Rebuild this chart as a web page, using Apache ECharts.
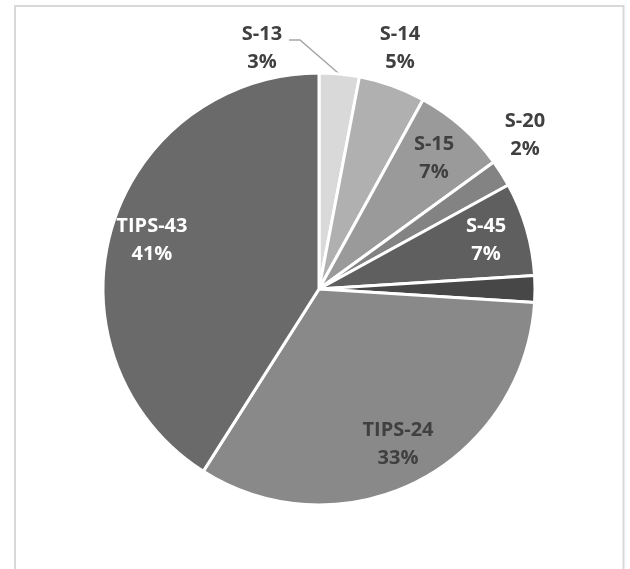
<!DOCTYPE html>
<html>
<head>
<meta charset="utf-8">
<script src="https://cdn.jsdelivr.net/npm/echarts@6/dist/echarts.min.js"></script>
<style>
  html, body { margin: 0; padding: 0; background: #ffffff; }
  #chart { width: 630px; height: 569px; }
</style>
</head>
<body>
<div id="chart"></div>
<script>
// Share of each group, clockwise from twelve o'clock
const categories = ['S-13', 'S-14', 'S-15', 'S-20', 'S-45', '', 'TIPS-24', 'TIPS-43'];
const shares = [3, 5, 7, 2, 7, 2, 33, 41];

// Grey palette for the slices and the ink used for each label
const sliceColors = ['#d9d9d9', '#b0b0b0', '#9a9a9a', '#838383', '#5f5f5f', '#474747', '#898989', '#6a6a6a'];
const labelInk = ['#404040', '#404040', '#404040', '#404040', '#ffffff', '#404040', '#404040', '#ffffff'];
// Labels drawn outside the pie (the rest sit inside their slice)
const outsideLabels = ['S-13', 'S-14', 'S-20'];

const chart = echarts.init(document.getElementById('chart'), null, { renderer: 'canvas' });

const CX = 319, CY = 289, R = 216;
const font = { fontFamily: '"Open Sans", "Noto Sans", sans-serif', fontWeight: 'bold', fontSize: 20, lineHeight: 28 };

const sliceData = categories.map((name, i) => ({
  name: name,
  value: shares[i],
  itemStyle: { color: sliceColors[i] }
}));

// Transparent ring whose mid radius carries the in-slice labels
const labelData = categories.map((name, i) => {
  const outside = outsideLabels.indexOf(name) >= 0;
  return {
    name: name,
    value: shares[i],
    itemStyle: { color: 'rgba(0,0,0,0)', borderWidth: 0 },
    label: {
      show: name !== '',
      position: outside ? 'outside' : 'inside',
      color: labelInk[i]
    },
    labelLine: {
      show: name === 'S-13',
      lineStyle: { color: '#a6a6a6', width: 1.5 }
    }
  };
});

// Placement of the labels that sit beyond the rim
const outsidePlacement = {
  'S-13': { x: 262, y: 48, line: [[300, 40], [289, 40]] },
  'S-14': { x: 400, y: 48 },
  'S-20': { x: 525, y: 135 }
};

chart.setOption({
  animation: false,
  backgroundColor: '#ffffff',
  graphic: [{
    type: 'rect',
    shape: { x: 15, y: 6, width: 608.5, height: 640 },
    style: { fill: 'none', stroke: '#d9d9d9', lineWidth: 2 },
    silent: true
  }],
  series: [
    {
      type: 'pie',
      center: [CX, CY],
      radius: [0, R],
      startAngle: 90,
      clockwise: true,
      silent: true,
      label: { show: false },
      labelLine: { show: false },
      itemStyle: { borderColor: '#ffffff', borderWidth: 3 },
      emphasis: { disabled: true },
      data: sliceData
    },
    {
      type: 'pie',
      center: [CX, CY],
      radius: [126, R],
      startAngle: 90,
      clockwise: true,
      silent: true,
      avoidLabelOverlap: false,
      percentPrecision: 0,
      emphasis: { disabled: true },
      label: Object.assign({ formatter: '{b}\n{d}%' }, font),
      labelLine: { length: 10, length2: 10 },
      labelLayout: function (params) {
        const name = categories[params.dataIndex];
        const p = outsidePlacement[name];
        if (!p) return {};
        const out = { x: p.x, y: p.y, align: 'center', verticalAlign: 'middle' };
        if (p.line && params.labelLinePoints) {
          out.labelLinePoints = [params.labelLinePoints[0]].concat(p.line);
        }
        return out;
      },
      data: labelData
    }
  ]
});
</script>
</body>
</html>
